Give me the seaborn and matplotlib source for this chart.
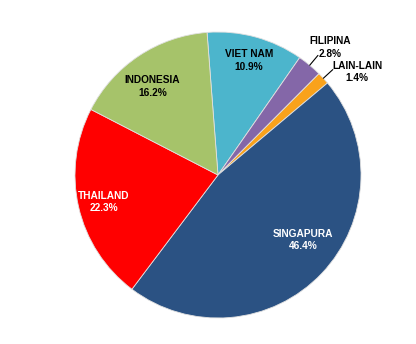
import numpy as np
import matplotlib
matplotlib.use("Agg")
import matplotlib.pyplot as plt
import seaborn as sns

categories = ["VIET NAM", "FILIPINA", "LAIN-LAIN", "SINGAPURA", "THAILAND", "INDONESIA"]
shares = [10.9, 2.8, 1.4, 46.4, 22.3, 16.2]
colors = ["#4CB5CC", "#8467A8", "#F9A21B", "#2B5283", "#FF0000", "#A6C36A"]
text_colors = ["black", "black", "black", "white", "white", "black"]
# label radial distance and angle tweak (degrees) per slice
label_dist = [0.83, 1.19, 1.21, 0.75, 0.82, 0.77]
label_dang = [0.0, -1.5, -6.0, 6.0, 0.5, 3.0]
outside = [False, True, True, False, False, False]

sns.set_theme(style="white")
plt.rcParams['font.family'] = ['Liberation Sans', 'DejaVu Sans']

W, H = 416, 344
fig = plt.figure(figsize=(W / 100, H / 100), dpi=100)
cx, cy, R = 218, 175, 143
ax = fig.add_axes([(cx - R) / W, (H - cy - R) / H, 2 * R / W, 2 * R / H])
ax.set_xlim(-1, 1)
ax.set_ylim(-1, 1)
ax.set_aspect("equal")
ax.axis("off")

start = 94.4
wedges, _ = ax.pie(shares, colors=colors, startangle=start, counterclock=False,
                   radius=1.0, center=(0, 0), frame=False,
                   wedgeprops=dict(edgecolor="#e0e0e0", linewidth=0.6))
ax.set_xlim(-1, 1)
ax.set_ylim(-1, 1)

for w, name, val, tc, d, da, out in zip(wedges, categories, shares, text_colors,
                                         label_dist, label_dang, outside):
    mid = 0.5 * (w.theta1 + w.theta2)
    a = np.deg2rad(mid + da)
    tx, ty = d * np.cos(a), d * np.sin(a)
    ax.text(tx, ty, f"{name}\n{val:.1f}%", ha="center", va="center",
            fontsize=7.3, fontweight="bold", color=tc, linespacing=1.3)
    if out:
        am = np.deg2rad(mid)
        ax.plot([1.0 * np.cos(am), 1.09 * np.cos(am)],
                [1.0 * np.sin(am), 1.09 * np.sin(am)], color="black", lw=0.8)

fig.savefig("out.png", dpi=100, facecolor="white")
